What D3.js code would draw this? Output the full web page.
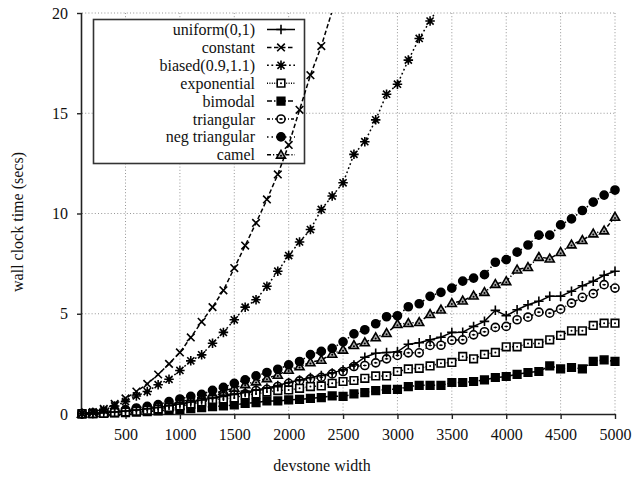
<!DOCTYPE html>
<html><head><meta charset="utf-8">
<script src="https://cdn.jsdelivr.net/npm/d3@7/dist/d3.min.js"></script>
<style>html,body{margin:0;padding:0;background:#fff}svg{display:block}
svg text{font-family:"Liberation Serif","Tinos","Nimbus Roman","DejaVu Serif",serif;}</style>
</head><body>
<svg id="chart" width="636" height="477"></svg>
<script>
// ---------- data ----------
const widths = [100,200,300,400,500,600,700,800,900,1000,1100,1200,1300,1400,1500,1600,1700,1800,1900,2000,
  2100,2200,2300,2400,2500,2600,2700,2800,2900,3000,3100,3200,3300,3400,3500,3600,3700,3800,3900,4000,
  4100,4200,4300,4400,4500,4600,4700,4800,4900,5000];
const xTicks = [500,1000,1500,2000,2500,3000,3500,4000,4500,5000];
const yTicks = [0,5,10,15,20];
const seriesNames = ["uniform(0,1)","constant","biased(0.9,1.1)","exponential","bimodal","triangular","neg triangular","camel"];

const uniform = [0.01,0.03,0.06,0.1,0.15,0.2,0.26,0.33,0.42,0.5,0.6,0.7,0.8,0.88,0.98,1.07,1.2,1.3,1.42,1.57,
  1.7,1.82,1.92,2.05,2.2,2.45,2.83,3.03,3.07,3.1,3.48,3.55,3.7,3.83,4.07,4.08,4.37,4.62,5.17,4.9,
  5.2,5.45,5.62,5.87,5.87,6.12,6.4,6.62,6.92,7.12];
const constant = [0.03,0.1,0.25,0.5,0.78,1.12,1.5,1.97,2.5,3.07,3.82,4.6,5.33,6.17,7.28,8.4,9.53,10.7,11.95,13.42,
  15.17,16.9,18.35,20.1];
const biased = [0.03,0.08,0.2,0.4,0.62,0.9,1.12,1.46,1.73,2.17,2.65,2.95,3.53,4.07,4.7,5.33,5.7,6.37,7.12,7.9,
  8.58,9.2,10.2,10.87,11.53,12.95,13.58,14.67,15.95,16.45,17.65,18.73,19.6,20.5];
const exponential = [0.01,0.02,0.04,0.07,0.1,0.14,0.19,0.25,0.32,0.4,0.5,0.6,0.72,0.75,0.8,0.95,1.0,1.1,1.17,1.2,
  1.28,1.37,1.4,1.53,1.62,1.67,1.78,1.9,1.9,2.12,2.25,2.28,2.4,2.53,2.57,2.87,2.75,2.97,3.07,3.35,
  3.35,3.52,3.52,3.7,3.92,4.15,4.15,4.42,4.53,4.53];
const bimodal = [0.01,0.02,0.03,0.05,0.07,0.09,0.12,0.15,0.19,0.23,0.27,0.32,0.37,0.4,0.45,0.53,0.57,0.65,0.65,0.7,
  0.73,0.78,0.82,0.9,0.88,1.0,1.07,1.17,1.23,1.23,1.37,1.43,1.43,1.43,1.57,1.57,1.62,1.7,1.82,1.87,
  1.98,2.07,2.12,2.4,2.25,2.32,2.25,2.62,2.7,2.62];
const triangular = [0.01,0.03,0.06,0.1,0.14,0.19,0.25,0.32,0.4,0.48,0.57,0.66,0.78,0.87,0.95,1.0,1.17,1.23,1.37,1.53,
  1.65,1.75,1.83,2.0,2.12,2.37,2.42,2.55,2.75,2.92,3.05,3.05,3.42,3.43,3.68,3.7,3.95,4.1,4.32,4.37,
  4.7,4.83,5.08,5.03,5.23,5.53,5.82,6.0,6.45,6.28];
const negTriangular = [0.02,0.05,0.1,0.16,0.22,0.3,0.38,0.47,0.62,0.75,0.88,0.98,1.18,1.33,1.53,1.7,1.9,2.07,2.23,2.45,
  2.62,2.96,3.12,3.27,3.6,4.0,4.2,4.5,4.85,4.9,5.35,5.5,5.87,6.07,6.28,6.63,6.78,6.95,7.57,7.7,
  8.07,8.43,8.92,8.92,9.43,9.73,10.15,10.57,10.92,11.17];
const camel = [0.01,0.03,0.06,0.1,0.16,0.22,0.3,0.38,0.48,0.6,0.72,0.85,1.02,1.15,1.3,1.48,1.62,1.78,1.95,2.2,
  2.37,2.57,2.7,3.0,3.2,3.43,3.57,3.82,4.03,4.48,4.53,4.58,4.98,5.2,5.53,5.65,5.9,6.08,6.48,6.62,
  7.2,7.32,7.83,7.75,8.07,8.45,8.67,9.0,9.15,9.83];

const seriesValues = [uniform, constant, biased, exponential, bimodal, triangular, negTriangular, camel];
const markers = ["plus","cross","star","boxdot","fillsquare","circledot","fillcircle","tridot"];
const dashes = [null, "4.5,2.5", "1.8,2.6", "1,1.4", "5,2,1.5,2", "3,2,1,2", "1.5,3", "4,2,1.2,2"];

// ---------- layout ----------
const svg = d3.select("#chart");
const L = 82, R = 615, T = 13, B = 414;
const x = d3.scaleLinear().domain([100, 5000]).range([L, R]);
const y = d3.scaleLinear().domain([0, 20]).range([B, T]);
const font = '"Liberation Serif","Tinos","Nimbus Roman","DejaVu Serif",serif';

// grid
const grid = svg.append("g").attr("stroke", "#8a8a8a").attr("stroke-width", 0.9).attr("stroke-dasharray", "1,2.2");
xTicks.forEach(t => grid.append("line").attr("x1", x(t)).attr("x2", x(t)).attr("y1", B).attr("y2", T));
yTicks.filter(t => t > 0).forEach(t => grid.append("line").attr("x1", L).attr("x2", R).attr("y1", y(t)).attr("y2", y(t)));

// axes
const xAxis = d3.axisBottom(x).tickValues(xTicks).tickFormat(d3.format("d")).tickSize(5).tickPadding(10).tickSizeOuter(0);
const gx = svg.append("g").attr("transform", `translate(0,${B})`).call(xAxis);
const yAxis = d3.axisLeft(y).tickValues(yTicks).tickFormat(d3.format("d")).tickSize(5).tickPadding(9).tickSizeOuter(0);
const gy = svg.append("g").attr("transform", `translate(${L},0)`).call(yAxis);
[gx, gy].forEach(g => {
  g.attr("font-family", font).attr("font-size", 16);
  g.select(".domain").attr("stroke", "#222").attr("stroke-width", 1.6);
  g.selectAll(".tick line").attr("stroke", "#222").attr("stroke-width", 1.4);
  g.selectAll(".tick text").attr("fill", "#111");
});
gx.select(".domain").attr("d", `M${L},0.5H${R}`);
gy.select(".domain").attr("d", `M-0.5,${B}V${T}`);

// axis titles
svg.append("text").attr("x", 322).attr("y", 471).attr("text-anchor", "middle")
  .attr("font-family", font).attr("font-size", 16).attr("fill", "#111").text("devstone width");
svg.append("text").attr("transform", "translate(23,222) rotate(-90)").attr("text-anchor", "middle")
  .attr("font-family", font).attr("font-size", 16).attr("fill", "#111").text("wall clock time (secs)");

// marker paths
function markerPath(type, s) {
  const h = s / 2;
  switch (type) {
    case "plus": return `M${-h},0H${h}M0,${-h}V${h}`;
    case "cross": return `M${-h*0.8},${-h*0.8}L${h*0.8},${h*0.8}M${-h*0.8},${h*0.8}L${h*0.8},${-h*0.8}`;
    case "star": return `M${-h},0H${h}M0,${-h}V${h}M${-h*0.75},${-h*0.75}L${h*0.75},${h*0.75}M${-h*0.75},${h*0.75}L${h*0.75},${-h*0.75}`;
    case "boxdot": return `M${-h*0.8},${-h*0.8}H${h*0.8}V${h*0.8}H${-h*0.8}Z`;
    case "fillsquare": return `M${-h*0.8},${-h*0.8}H${h*0.8}V${h*0.8}H${-h*0.8}Z`;
    case "circledot": return d3.arc()({innerRadius:0,outerRadius:h*0.85,startAngle:0,endAngle:2*Math.PI});
    case "fillcircle": return d3.arc()({innerRadius:0,outerRadius:h*0.85,startAngle:0,endAngle:2*Math.PI});
    case "tridot": return `M0,${-h*0.95}L${h*0.95},${h*0.7}L${-h*0.95},${h*0.7}Z`;
  }
}
function drawMarker(g, type, cx, cy) {
  const s = 9.5;
  const filled = type === "fillsquare" || type === "fillcircle";
  g.append("path").attr("transform", `translate(${cx},${cy})`).attr("d", markerPath(type, s))
    .attr("stroke", "#000").attr("stroke-width", 1.6).attr("fill", filled ? "#000" : (type==="tridot" ? "#aaa" : "#fff"));
  if (type === "boxdot" || type === "circledot" || type === "tridot") {
    g.append("circle").attr("cx", cx).attr("cy", cy + (type==="tridot"?1:0)).attr("r", 1).attr("fill", "#000");
  }
  if (type === "circledot") {
    g.append("line").attr("x1", cx-1.8).attr("x2", cx+1.8).attr("y1", cy).attr("y2", cy).attr("stroke","#000").attr("stroke-width",1);
  }
}

// legend (drawn beneath the data, like the original)
const lg = svg.append("g");
lg.append("rect").attr("x", 93.5).attr("y", 19.5).attr("width", 211).attr("height", 144)
  .attr("fill", "#fff").attr("stroke", "#333").attr("stroke-width", 1.6);
seriesNames.forEach((name, i) => {
  const cy = 29.5 + i * 17.9;
  lg.append("text").attr("x", 255).attr("y", cy + 5.5).attr("text-anchor", "end")
    .attr("font-family", font).attr("font-size", 16).attr("fill", "#111").text(name);
  lg.append("line").attr("x1", 267).attr("x2", 295).attr("y1", cy).attr("y2", cy)
    .attr("stroke", "#000").attr("stroke-width", 1.5).attr("stroke-dasharray", dashes[i]);
  drawMarker(lg, markers[i], 281, cy);
});

// clip for lines
svg.append("clipPath").attr("id", "clip").append("rect").attr("x", L - 10).attr("y", T).attr("width", R - L + 20).attr("height", B - T + 10);

const line = d3.line().x(d => x(d[0])).y(d => y(d[1]));
const plot = svg.append("g");
for (let i = seriesValues.length - 1; i >= 0; i--) {
  const vals = seriesValues[i];
  const pts = vals.map((v, j) => [widths[j], v]);
  plot.append("path").attr("clip-path", "url(#clip)").attr("d", line(pts)).attr("fill", "none")
    .attr("stroke", "#000").attr("stroke-width", 1.5).attr("stroke-dasharray", dashes[i]);
  const mg = plot.append("g");
  pts.filter(p => p[1] <= 20).forEach(p => drawMarker(mg, markers[i], x(p[0]), y(p[1])));
}
</script>
</body></html>
